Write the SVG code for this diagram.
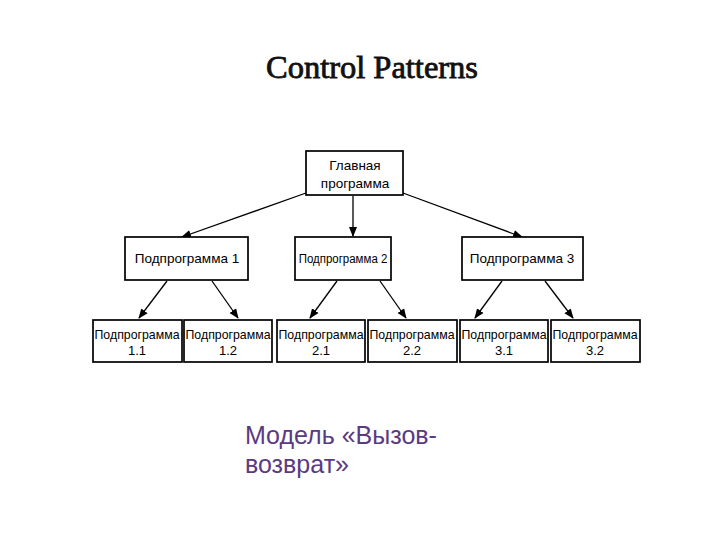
<svg xmlns="http://www.w3.org/2000/svg" width="720" height="540" viewBox="0 0 720 540">
<defs>
<style>
.box{fill:#fff;stroke:#000;stroke-width:1.7}
.t{font-family:"Liberation Sans",Arial,sans-serif;font-size:13.5px;fill:#000;text-anchor:middle}
.s{font-family:"Liberation Sans",Arial,sans-serif;font-size:13px;fill:#000;text-anchor:middle}
.c{stroke:#000;stroke-width:1.3;fill:none;marker-end:url(#ah)}
</style>
<marker id="ah" viewBox="0 0 10 10" refX="9" refY="5" markerWidth="10" markerHeight="10" markerUnits="userSpaceOnUse" orient="auto">
<path d="M0,1 L10,5 L0,9 z" fill="#000"/>
</marker>
</defs>
<rect width="720" height="540" fill="#fff"/>
<text x="372" y="78" font-family="'Liberation Serif','Times New Roman',serif" font-size="31" text-anchor="middle" textLength="212" lengthAdjust="spacingAndGlyphs" fill="#111" stroke="#111" stroke-width="0.8">Control Patterns</text>

<g id="connectors">
<path class="c" d="M306,193 L182,237"/>
<path class="c" d="M353,196 L353,236"/>
<path class="c" d="M403,193 L522,237"/>
<path class="c" d="M167,281 L139,318"/>
<path class="c" d="M212,281 L238,318"/>
<path class="c" d="M337,281 L310,318"/>
<path class="c" d="M380,281 L406,318"/>
<path class="c" d="M502,281 L475,318"/>
<path class="c" d="M545,281 L573,318"/>
</g>

<g id="main">
<rect class="box" x="306" y="151" width="97" height="44"/>
<text class="t" x="355" y="170">Главная</text>
<text class="t" x="355" y="188">программа</text>
</g>
<g id="sub1">
<rect class="box" x="125" y="237" width="123" height="43"/>
<text class="t" x="187" y="263">Подпрограмма 1</text>
</g>
<g id="sub2">
<rect class="box" x="295" y="237" width="96" height="43"/>
<text class="t" transform="translate(343,263) scale(0.85,1)">Подпрограмма 2</text>
</g>
<g id="sub3">
<rect class="box" x="462" y="237" width="121" height="43"/>
<text class="t" x="522" y="263">Подпрограмма 3</text>
</g>

<g id="sub11">
<rect class="box" x="93" y="320" width="89" height="42"/>
<text class="s" x="137" y="339" textLength="85" lengthAdjust="spacingAndGlyphs">Подпрограмма</text>
<text class="s" x="137" y="355">1.1</text>
</g>
<g id="sub12">
<rect class="box" x="184" y="320" width="88" height="42"/>
<text class="s" x="228" y="339" textLength="85" lengthAdjust="spacingAndGlyphs">Подпрограмма</text>
<text class="s" x="228" y="355">1.2</text>
</g>
<g id="sub21">
<rect class="box" x="277" y="320" width="88" height="42"/>
<text class="s" x="321" y="339" textLength="85" lengthAdjust="spacingAndGlyphs">Подпрограмма</text>
<text class="s" x="321" y="355">2.1</text>
</g>
<g id="sub22">
<rect class="box" x="368" y="320" width="89" height="42"/>
<text class="s" x="412" y="339" textLength="85" lengthAdjust="spacingAndGlyphs">Подпрограмма</text>
<text class="s" x="412" y="355">2.2</text>
</g>
<g id="sub31">
<rect class="box" x="460" y="320" width="88" height="42"/>
<text class="s" x="504" y="339" textLength="85" lengthAdjust="spacingAndGlyphs">Подпрограмма</text>
<text class="s" x="504" y="355">3.1</text>
</g>
<g id="sub32">
<rect class="box" x="551" y="320" width="89" height="42"/>
<text class="s" x="595" y="339" textLength="85" lengthAdjust="spacingAndGlyphs">Подпрограмма</text>
<text class="s" x="595" y="355">3.2</text>
</g>

<g id="caption" font-family="'Liberation Sans',Arial,sans-serif" font-size="25" fill="#5b3a82">
<text x="245" y="444">Модель «Вызов-</text>
<text x="245" y="473">возврат»</text>
</g>
</svg>
